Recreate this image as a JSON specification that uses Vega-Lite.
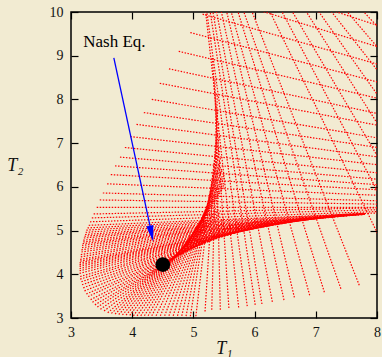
{
  "$schema": "https://vega.github.io/schema/vega-lite/v6.json",
  "width": 306,
  "height": 306,
  "autosize": {"type": "none"},
  "padding": {"left": 71, "top": 12, "right": 5, "bottom": 39},
  "background": "#f2ebd2",
  "config": {
    "view": {"stroke": "#000000", "strokeWidth": 1.5, "fill": null},
    "axis": {
      "labelFont": "Liberation Serif", "labelFontSize": 14, "labelColor": "#111111",
      "titleFont": "Liberation Serif", "titleFontSize": 18, "titleFontStyle": "italic",
      "titleFontWeight": "normal", "titleColor": "#111111",
      "tickColor": "#000000", "tickWidth": 1.2, "tickSize": -7,
      "domain": false, "grid": false, "labelFlush": false
    }
  },
  "datasets": {
    "segs": [
      {"x":3.29,"y":5.12,"x2":8.3,"y2":5.42},
      {"x":3.31,"y":5.20,"x2":8.3,"y2":5.45},
      {"x":3.34,"y":5.29,"x2":8.3,"y2":5.49},
      {"x":3.37,"y":5.38,"x2":8.3,"y2":5.53},
      {"x":3.42,"y":5.53,"x2":8.3,"y2":5.53},
      {"x":3.47,"y":5.70,"x2":8.3,"y2":5.60},
      {"x":3.52,"y":5.86,"x2":8.3,"y2":5.67},
      {"x":3.59,"y":6.07,"x2":8.3,"y2":5.79},
      {"x":3.65,"y":6.28,"x2":8.3,"y2":5.91},
      {"x":3.72,"y":6.48,"x2":8.3,"y2":6.02},
      {"x":3.80,"y":6.68,"x2":8.3,"y2":6.14},
      {"x":3.88,"y":6.90,"x2":8.3,"y2":6.28},
      {"x":3.97,"y":7.15,"x2":8.3,"y2":6.46},
      {"x":4.07,"y":7.43,"x2":8.3,"y2":6.63},
      {"x":4.19,"y":7.70,"x2":8.3,"y2":6.84},
      {"x":4.32,"y":8.00,"x2":8.3,"y2":7.05},
      {"x":4.45,"y":8.37,"x2":8.3,"y2":7.33},
      {"x":4.60,"y":8.70,"x2":8.3,"y2":7.59},
      {"x":4.76,"y":9.10,"x2":8.3,"y2":7.93},
      {"x":4.95,"y":9.53,"x2":8.3,"y2":8.29},
      {"x":5.15,"y":9.95,"x2":8.3,"y2":8.69},
      {"x":5.35,"y":10.35,"x2":8.3,"y2":9.08},
      {"x":5.60,"y":10.80,"x2":8.3,"y2":9.56},
      {"x":3.54,"y":3.16,"x2":5.50,"y2":5.27},
      {"x":3.48,"y":3.20,"x2":5.50,"y2":5.18},
      {"x":3.43,"y":3.25,"x2":5.50,"y2":5.11},
      {"x":3.39,"y":3.30,"x2":5.61,"y2":5.13},
      {"x":3.35,"y":3.36,"x2":5.73,"y2":5.18},
      {"x":3.32,"y":3.42,"x2":5.81,"y2":5.19},
      {"x":3.28,"y":3.49,"x2":5.90,"y2":5.20},
      {"x":3.25,"y":3.55,"x2":6.02,"y2":5.22},
      {"x":3.22,"y":3.62,"x2":6.15,"y2":5.26},
      {"x":3.20,"y":3.69,"x2":6.21,"y2":5.26},
      {"x":3.18,"y":3.76,"x2":6.28,"y2":5.25},
      {"x":3.17,"y":3.83,"x2":6.34,"y2":5.25},
      {"x":3.15,"y":3.89,"x2":6.40,"y2":5.26},
      {"x":3.15,"y":3.95,"x2":6.48,"y2":5.27},
      {"x":3.14,"y":4.02,"x2":6.57,"y2":5.27},
      {"x":3.14,"y":4.08,"x2":6.65,"y2":5.28},
      {"x":3.14,"y":4.13,"x2":6.74,"y2":5.29},
      {"x":3.14,"y":4.18,"x2":6.83,"y2":5.30},
      {"x":3.14,"y":4.22,"x2":6.90,"y2":5.31},
      {"x":3.14,"y":4.26,"x2":7.00,"y2":5.33},
      {"x":3.15,"y":4.30,"x2":7.10,"y2":5.33},
      {"x":3.15,"y":4.34,"x2":7.20,"y2":5.355},
      {"x":3.16,"y":4.40,"x2":7.31,"y2":5.36},
      {"x":3.16,"y":4.45,"x2":7.39,"y2":5.37},
      {"x":3.17,"y":4.51,"x2":7.50,"y2":5.38},
      {"x":3.17,"y":4.56,"x2":7.60,"y2":5.385},
      {"x":3.18,"y":4.61,"x2":7.70,"y2":5.40},
      {"x":3.18,"y":4.66,"x2":7.80,"y2":5.40},
      {"x":3.19,"y":4.70,"x2":7.80,"y2":5.39},
      {"x":3.20,"y":4.74,"x2":7.80,"y2":5.38},
      {"x":3.20,"y":4.78,"x2":7.80,"y2":5.38},
      {"x":3.21,"y":4.83,"x2":7.80,"y2":5.38},
      {"x":3.22,"y":4.87,"x2":7.80,"y2":5.375},
      {"x":3.23,"y":4.91,"x2":7.80,"y2":5.37},
      {"x":3.24,"y":4.96,"x2":7.80,"y2":5.37},
      {"x":3.25,"y":5.01,"x2":7.80,"y2":5.38},
      {"x":3.27,"y":5.06,"x2":7.80,"y2":5.39},
      {"x":3.60,"y":3.12,"x2":5.44,"y2":5.30},
      {"x":3.66,"y":3.105,"x2":5.43,"y2":5.355},
      {"x":3.72,"y":3.09,"x2":5.43,"y2":5.41},
      {"x":3.78,"y":3.08,"x2":5.41,"y2":5.46},
      {"x":3.84,"y":3.07,"x2":5.41,"y2":5.51},
      {"x":3.90,"y":3.065,"x2":5.41,"y2":5.585},
      {"x":3.96,"y":3.06,"x2":5.41,"y2":5.67},
      {"x":4.02,"y":3.05,"x2":5.43,"y2":5.79},
      {"x":4.08,"y":3.05,"x2":5.50,"y2":6.00},
      {"x":4.14,"y":3.05,"x2":5.51,"y2":6.07},
      {"x":4.20,"y":3.05,"x2":5.51,"y2":6.13},
      {"x":4.26,"y":3.05,"x2":5.51,"y2":6.21},
      {"x":4.32,"y":3.05,"x2":5.50,"y2":6.27},
      {"x":4.39,"y":3.05,"x2":5.50,"y2":6.33},
      {"x":4.46,"y":3.05,"x2":5.47,"y2":6.375},
      {"x":4.53,"y":3.05,"x2":5.47,"y2":6.43},
      {"x":4.60,"y":3.05,"x2":5.45,"y2":6.485},
      {"x":4.67,"y":3.05,"x2":5.445,"y2":6.57},
      {"x":4.74,"y":3.05,"x2":5.45,"y2":6.70},
      {"x":4.81,"y":3.05,"x2":5.43,"y2":6.82},
      {"x":4.88,"y":3.045,"x2":5.425,"y2":6.945},
      {"x":4.95,"y":3.04,"x2":5.42,"y2":7.15},
      {"x":5.04,"y":3.04,"x2":5.41,"y2":7.40},
      {"x":5.19,"y":3.15,"x2":5.40,"y2":7.80},
      {"x":5.30,"y":3.19,"x2":5.39,"y2":8.10},
      {"x":5.44,"y":3.19,"x2":5.35,"y2":8.45},
      {"x":5.58,"y":3.23,"x2":5.31,"y2":8.95},
      {"x":5.74,"y":3.24,"x2":5.20,"y2":10.0},
      {"x":5.88,"y":3.27,"x2":5.17,"y2":10.5},
      {"x":6.01,"y":3.30,"x2":5.22,"y2":10.5},
      {"x":6.12,"y":3.32,"x2":5.26,"y2":10.5},
      {"x":6.29,"y":3.37,"x2":5.31,"y2":10.5},
      {"x":6.48,"y":3.41,"x2":5.38,"y2":10.5},
      {"x":6.65,"y":3.47,"x2":5.46,"y2":10.5},
      {"x":6.90,"y":3.52,"x2":5.52,"y2":10.5},
      {"x":7.14,"y":3.59,"x2":5.62,"y2":10.5},
      {"x":7.41,"y":3.67,"x2":5.70,"y2":10.5},
      {"x":7.71,"y":3.75,"x2":5.82,"y2":10.5},
      {"x":8.35,"y":3.95,"x2":6.08,"y2":10.5},
      {"x":8.70,"y":4.08,"x2":6.26,"y2":10.5},
      {"x":9.05,"y":4.22,"x2":6.41,"y2":10.5},
      {"x":9.40,"y":4.38,"x2":6.62,"y2":10.5},
      {"x":9.80,"y":4.55,"x2":6.80,"y2":10.5},
      {"x":10.2,"y":4.75,"x2":6.98,"y2":10.5},
      {"x":10.6,"y":4.95,"x2":7.21,"y2":10.5},
      {"x":11.0,"y":5.20,"x2":7.45,"y2":10.5}
    ]
  },
  "layer": [
    {
      "data": {"name": "segs"},
      "mark": {"type": "rule", "color": "#ff0000", "strokeWidth": 1.2, "strokeDash": [1.5, 1.5], "clip": true},
      "encoding": {
        "x": {"field": "x", "type": "quantitative",
              "scale": {"domain": [3, 8], "nice": false, "zero": false},
              "axis": {"values": [3,4,5,6,7,8], "labelPadding": 14, "title": "T₁", "titleY": 35, "titleBaseline": "alphabetic"}},
        "y": {"field": "y", "type": "quantitative",
              "scale": {"domain": [3, 10], "nice": false, "zero": false},
              "axis": {"values": [3,4,5,6,7,8,9,10], "labelPadding": 15, "title": "T₂", "titleAngle": 0, "titleX": -56, "titleY": 158, "titleAlign": "center", "titleBaseline": "alphabetic"}},
        "x2": {"field": "x2"},
        "y2": {"field": "y2"}
      }
    },
    {
      "data": {"values": [{"x": 3.70, "y": 8.95, "x2": 4.30, "y2": 5.05}]},
      "mark": {"type": "rule", "color": "#0000ff", "strokeWidth": 1.3},
      "encoding": {
        "x": {"field": "x", "type": "quantitative", "scale": {"domain": [3, 8], "nice": false, "zero": false}, "axis": null},
        "y": {"field": "y", "type": "quantitative", "scale": {"domain": [3, 10], "nice": false, "zero": false}, "axis": null},
        "x2": {"field": "x2"},
        "y2": {"field": "y2"}
      }
    },
    {
      "data": {"values": [{"x": 4.315, "y": 4.93}]},
      "mark": {"type": "point", "shape": "M -0.45 -1 L 0.45 -1 L 0 1 Z", "filled": true, "color": "#0000ff", "opacity": 1, "size": 256, "angle": 348},
      "encoding": {
        "x": {"field": "x", "type": "quantitative", "scale": {"domain": [3, 8], "nice": false, "zero": false}, "axis": null},
        "y": {"field": "y", "type": "quantitative", "scale": {"domain": [3, 10], "nice": false, "zero": false}, "axis": null}
      }
    },
    {
      "data": {"values": [{"x": 4.5, "y": 4.22}]},
      "mark": {"type": "point", "shape": "circle", "filled": true, "color": "#000000", "opacity": 1, "size": 216},
      "encoding": {
        "x": {"field": "x", "type": "quantitative", "scale": {"domain": [3, 8], "nice": false, "zero": false},
              "axis": {"orient": "top", "values": [3,4,5,6,7,8], "labels": false, "title": null}},
        "y": {"field": "y", "type": "quantitative", "scale": {"domain": [3, 10], "nice": false, "zero": false},
              "axis": {"orient": "right", "values": [3,4,5,6,7,8,9,10], "labels": false, "title": null}}
      }
    },
    {
      "data": {"values": [{"x": 3.71, "y": 9.32, "label": "Nash Eq."}]},
      "mark": {"type": "text", "font": "Liberation Serif", "fontSize": 17, "color": "#000000", "align": "center", "baseline": "middle"},
      "encoding": {
        "x": {"field": "x", "type": "quantitative", "scale": {"domain": [3, 8], "nice": false, "zero": false}, "axis": null},
        "y": {"field": "y", "type": "quantitative", "scale": {"domain": [3, 10], "nice": false, "zero": false}, "axis": null},
        "text": {"field": "label"}
      }
    }
  ],
  "resolve": {"axis": {"x": "independent", "y": "independent"}}
}
